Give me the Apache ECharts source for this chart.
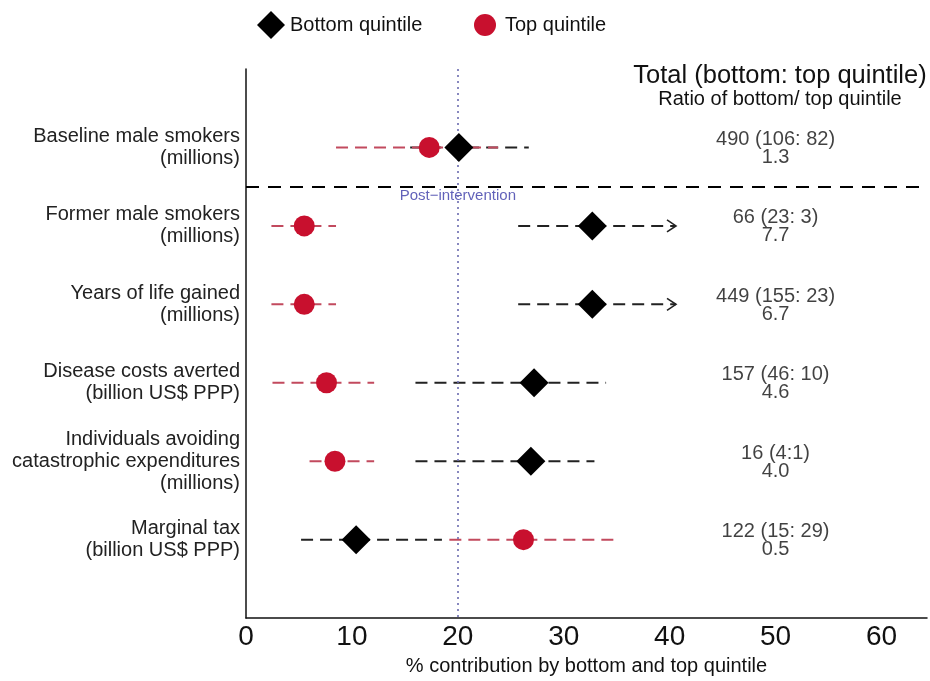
<!DOCTYPE html>
<html>
<head>
<meta charset="utf-8">
<script src="https://cdn.jsdelivr.net/npm/echarts@6/dist/echarts.min.js"></script>
<style>
  html, body { margin: 0; padding: 0; background: #fff; }
  #chart { width: 930px; height: 681px; }
</style>
</head>
<body>
<div id="chart"></div>
<script>
// rows, top to bottom
var rows = [
  'Baseline male smokers\n(millions)',
  'Former male smokers\n(millions)',
  'Years of life gained\n(millions)',
  'Disease costs averted\n(billion US$ PPP)',
  'Individuals avoiding\ncatastrophic expenditures\n(millions)',
  'Marginal tax\n(billion US$ PPP)'
];

// bottom quintile: estimate + range, arrow = range goes beyond the plot
var bottomVal = [20.1, 32.7, 32.7, 27.2, 26.9, 10.4];
var bottomLo = [15.5, 25.7, 25.7, 16.0, 16.0, 5.2];
var bottomHi = [26.7, 40.6, 40.6, 34.0, 32.9, 18.5];
var bottomArrow = [0, 1, 1, 0, 0, 0];

// top quintile
var topVal = [17.3, 5.5, 5.5, 7.6, 8.4, 26.2];
var topLo = [8.5, 2.4, 2.4, 2.5, 6.0, 19.2];
var topHi = [23.8, 8.5, 8.5, 12.1, 12.1, 35.1];

// right hand text
var totals = ['490 (106: 82)', '66 (23: 3)', '449 (155: 23)', '157 (46: 10)', '16 (4:1)', '122 (15: 29)'];
var ratios = ['1.3', '7.7', '6.7', '4.6', '4.0', '0.5'];

var xTicks = [0, 10, 20, 30, 40, 50, 60];
var refLine = 20;

var FONT = 'Liberation Sans, Arial, sans-serif';
var BLACK = '#111';
var RED = '#c8102e';
var RED_LINE = '#c24a5e';

var chart = echarts.init(document.getElementById('chart'));

function rangeData(lo, hi, arrow) {
  return lo.map(function (v, i) { return [v, hi[i], i + 1, arrow ? arrow[i] : 0]; });
}

function renderRange(color) {
  return function (params, api) {
    var a = api.coord([api.value(0), api.value(2)]);
    var b = api.coord([api.value(1), api.value(2)]);
    var children = [{
      type: 'line',
      shape: { x1: a[0], y1: a[1], x2: b[0], y2: b[1] },
      style: { stroke: color, lineWidth: 2, lineDash: [12, 7] }
    }];
    if (api.value(3)) {
      children.push({
        type: 'polyline',
        shape: { points: [[b[0] - 9, b[1] - 6], [b[0], b[1]], [b[0] - 9, b[1] + 6]] },
        style: { stroke: color, lineWidth: 1.6, fill: null }
      });
    }
    return { type: 'group', children: children };
  };
}

var option = {
  backgroundColor: '#fff',
  animation: false,
  textStyle: { fontFamily: FONT },
  title: {
    text: 'Total (bottom: top quintile)',
    subtext: 'Ratio of bottom/ top quintile',
    left: 775,
    top: 58,
    textAlign: 'center',
    itemGap: 0,
    textStyle: { fontSize: 25.5, fontWeight: 'normal', color: BLACK, fontFamily: FONT },
    subtextStyle: { fontSize: 20, color: BLACK, fontFamily: FONT }
  },
  legend: [{
    left: 252,
    top: 6,
    itemWidth: 28,
    itemHeight: 28,
    textStyle: { fontSize: 20, color: BLACK, fontFamily: FONT },
    data: [{ name: 'Bottom quintile', icon: 'diamond' }]
  }, {
    left: 469,
    top: 9,
    itemWidth: 22,
    itemHeight: 22,
    itemGap: 0,
    textStyle: { fontSize: 20, color: BLACK, fontFamily: FONT, padding: [0, 0, 0, 4] },
    data: [{ name: 'Top quintile', icon: 'circle' }]
  }],
  grid: { left: 246, right: 0, top: 69, bottom: 58 },
  xAxis: {
    type: 'value',
    min: 0,
    max: 64.3,
    interval: 10,
    name: '% contribution by bottom and top quintile',
    nameLocation: 'middle',
    nameGap: 29,
    nameTextStyle: { fontSize: 20, color: BLACK, fontFamily: FONT },
    axisLine: { show: true, onZero: false, lineStyle: { color: BLACK, width: 1.5 } },
    axisTick: { show: false },
    splitLine: { show: false },
    axisLabel: {
      fontSize: 28,
      color: BLACK,
      margin: 5,
      formatter: function (v) { return xTicks.indexOf(v) >= 0 ? String(v) : ''; }
    }
  },
  yAxis: {
    type: 'value',
    min: 0,
    max: 7,
    interval: 1,
    inverse: true,
    axisLine: { show: true, onZero: false, lineStyle: { color: BLACK, width: 1.5 } },
    axisTick: { show: false },
    splitLine: { show: false },
    axisLabel: {
      fontSize: 20,
      lineHeight: 22,
      color: '#222',
      margin: 6,
      align: 'right',
      formatter: function (v) { return rows[v - 1] || ''; }
    }
  },
  series: [
    {
      type: 'custom',
      name: 'bottom range',
      renderItem: renderRange('#222'),
      encode: { x: [0, 1], y: 2 },
      data: rangeData(bottomLo, bottomHi, bottomArrow),
      z: 2,
      silent: true
    },
    {
      type: 'custom',
      name: 'top range',
      renderItem: renderRange(RED_LINE),
      encode: { x: [0, 1], y: 2 },
      data: rangeData(topLo, topHi),
      z: 3,
      silent: true
    },
    {
      type: 'scatter',
      name: 'Bottom quintile',
      symbol: 'diamond',
      symbolSize: 29,
      itemStyle: { color: '#000', opacity: 1 },
      data: bottomVal.map(function (v, i) { return [v, i + 1]; }),
      z: 5,
      markLine: {
        silent: true,
        symbol: 'none',
        label: { show: false },
        data: [
          { xAxis: refLine, lineStyle: { type: [2, 4], color: '#6b6bb0', width: 1.6 } },
          { yAxis: 1.5, lineStyle: { type: [13, 9], color: '#000', width: 2 } }
        ]
      }
    },
    {
      type: 'scatter',
      name: 'Top quintile',
      symbol: 'circle',
      symbolSize: 21,
      itemStyle: { color: RED, opacity: 1 },
      data: topVal.map(function (v, i) { return [v, i + 1]; }),
      z: 5
    },
    {
      type: 'scatter',
      name: 'totals',
      symbolSize: 0,
      silent: true,
      data: totals.map(function (t, i) { return [50, i + 1]; }),
      label: {
        show: true,
        position: 'inside',
        offset: [0, 1],
        fontSize: 20,
        lineHeight: 18,
        color: BLACK,
        align: 'center',
        formatter: function (p) { return totals[p.dataIndex] + '\n' + ratios[p.dataIndex]; }
      }
    },
    {
      type: 'scatter',
      name: 'post',
      symbolSize: 0,
      silent: true,
      data: [[refLine, 1.5]],
      label: {
        show: true,
        position: 'bottom',
        distance: 2,
        fontSize: 15,
        color: '#3a3aa8',
        formatter: 'Post\u2212intervention'
      }
    }
  ]
};

chart.setOption(option);
</script>
</body>
</html>
